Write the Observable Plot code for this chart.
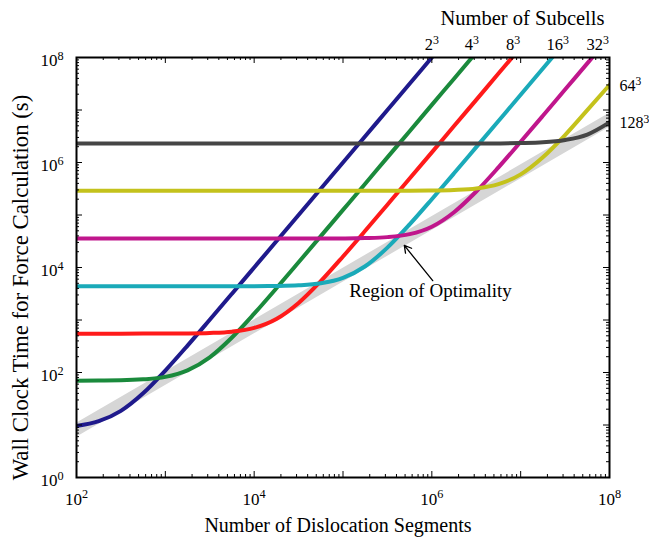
<!DOCTYPE html>
<html><head><meta charset="utf-8">
<script src="https://cdn.jsdelivr.net/npm/d3@7"></script>
<script src="https://cdn.jsdelivr.net/npm/@observablehq/plot@0.6"></script>
<style>body{margin:0;background:#fff} #chart{width:649px;height:538px}</style>
</head><body><div id="chart"></div>
<script>
// Number of dislocation segments (shared sample grid, quarter decades)
const segments = [100, 178, 316, 562, 1000, 1778, 3162, 5623, 1e4, 17783, 31623, 56234, 1e5, 177828, 316228, 562341, 1e6, 1778279, 3162278, 5623413, 1e7, 17782794, 31622777, 56234133, 1e8];
// Wall clock time (s) read per curve (null = beyond the top of the chart)
const time2 = [9.6, 11.8, 18.6, 40.2, 109, 325, 1010, 3170, 1.0e4, 3.16e4, 1.0e5, 3.16e5, 1.0e6, 3.16e6, 1.0e7, 3.16e7, 1.0e8, 3.16e8, null, null, null, null, null, null, null];
const time4 = [70, 70.4, 71, 74, 82.5, 110, 195, 465, 1320, 4020, 12570, 39570, 1.25e5, 3.95e5, 1.25e6, 3.95e6, 1.25e7, 3.95e7, 1.25e8, null, null, null, null, null, null];
const time8 = [550, 550, 550, 551, 552, 555, 566, 599, 706, 1044, 2113, 5490, 16200, 49960, 1.57e5, 4.94e5, 1.56e6, 4.94e6, 1.56e7, 4.94e7, 1.56e8, null, null, null, null];
const time16 = [4380, 4380, 4380, 4380, 4380, 4380, 4380, 4380, 4400, 4440, 4575, 5000, 6330, 10560, 23900, 66100, 2.0e5, 6.22e5, 1.96e6, 6.18e6, 1.95e7, 6.18e7, 1.95e8, null, null];
const time32 = [35500, 35500, 35500, 35500, 35500, 35500, 35500, 35500, 35500, 35500, 35500, 35500, 35700, 36300, 37900, 43200, 59900, 1.13e5, 2.80e5, 8.08e5, 2.48e6, 7.76e6, 2.45e7, 7.72e7, 2.44e8];
const time64 = [2.9e5, 2.9e5, 2.9e5, 2.9e5, 2.9e5, 2.9e5, 2.9e5, 2.9e5, 2.9e5, 2.9e5, 2.9e5, 2.9e5, 2.9e5, 2.9e5, 2.9e5, 2.91e5, 2.93e5, 3.0e5, 3.2e5, 3.87e5, 5.95e5, 1.26e6, 3.34e6, 9.94e6, 3.0e7];
const time128 = [2.3e6, 2.3e6, 2.3e6, 2.3e6, 2.3e6, 2.3e6, 2.3e6, 2.3e6, 2.3e6, 2.3e6, 2.3e6, 2.3e6, 2.3e6, 2.3e6, 2.3e6, 2.3e6, 2.3e6, 2.3e6, 2.3e6, 2.31e6, 2.34e6, 2.42e6, 2.68e6, 3.4e6, 5.8e6];
// Region of optimality band
const optimalSegments = [100, 1e8];
const optimalTime = [8.2, 6.6e6];
// Subcell labels
const subcellNames = ["2^3", "4^3", "8^3", "16^3", "32^3", "64^3", "128^3"];
const seriesTimes = [time2, time4, time8, time16, time32, time64, time128];
const seriesColors = ["#1f1a8c", "#1a8a3c", "#ff1a1a", "#1aaab9", "#c0168c", "#c4c21c", "#454545"];

// label anchors (data coordinates)
const topLabelN = [1e6, 2.82e6, 8.2e6, 2.61e7, 7.36e7];
const rightLabelT = [2.35e7, 4.45e6];

const rows = [];
subcellNames.forEach((name, s) => {
  seriesTimes[s].forEach((t, i) => { if (t != null) rows.push({series: name, N: segments[i], T: t}); });
});
const band = optimalSegments.map((n, i) => ({N: n, T: optimalTime[i]}));

const W = 649, H = 538, mL = 76, mR = 40, mT = 57, mB = 61;
const pw = W - mL - mR, ph = H - mT - mB;
const xMajor = d3.range(2, 9).map(e => 10 ** e);
const yMajor = d3.range(0, 9).map(e => 10 ** e);
const minorOf = (lo, hi) => d3.range(lo, hi).flatMap(e => d3.range(2, 10).map(m => m * 10 ** e));
const xMinor = minorOf(2, 8), yMinor = minorOf(0, 8);
const fmt = d => "10^" + Math.round(Math.log10(d));
const serif = "'Liberation Serif', 'Times New Roman', serif";

const marks = [
  Plot.line(band, {x: "N", y: "T", stroke: "#d6d6d6", strokeWidth: 12, clip: true}),
];
subcellNames.forEach((name, s) => {
  marks.push(Plot.line(rows.filter(r => r.series === name), {x: "N", y: "T", stroke: seriesColors[s], strokeWidth: 4, curve: "monotone-x", clip: true}));
});
marks.push(
  // ticks, inward on all four sides
  Plot.tickX(xMajor, {x: d => d, insetTop: ph - 6, stroke: "black"}),
  Plot.tickX(xMajor, {x: d => d, insetBottom: ph - 6, stroke: "black"}),
  Plot.tickX(xMinor, {x: d => d, insetTop: ph - 3, stroke: "black"}),
  Plot.tickX(xMinor, {x: d => d, insetBottom: ph - 3, stroke: "black"}),
  Plot.tickY(yMajor, {y: d => d, insetRight: pw - 6, stroke: "black"}),
  Plot.tickY(yMajor, {y: d => d, insetLeft: pw - 6, stroke: "black"}),
  Plot.tickY(yMinor, {y: d => d, insetRight: pw - 3, stroke: "black"}),
  Plot.tickY(yMinor, {y: d => d, insetLeft: pw - 3, stroke: "black"}),
  Plot.frame({stroke: "black", strokeWidth: 2}),
  Plot.axisX({ticks: [1e2, 1e4, 1e6, 1e8], tickSize: 0, tickPadding: 15, tickFormat: fmt, label: null, fontSize: 17}),
  Plot.axisY({ticks: [1, 1e2, 1e4, 1e6, 1e8], tickSize: 0, tickPadding: 13, dy: 3, tickFormat: fmt, label: null, fontSize: 17}),
  Plot.text(["Number of Dislocation Segments"], {frameAnchor: "bottom", dy: 54, lineAnchor: "bottom", fontSize: 20, dx: -5}),
  Plot.text(["Wall Clock Time for Force Calculation (s)"], {frameAnchor: "left", textAnchor: "middle", rotate: -90, dx: -56, dy: 20, fontSize: 22.8}),
  Plot.text(["Number of Subcells"], {frameAnchor: "top-right", textAnchor: "end", lineAnchor: "bottom", dx: -5, dy: -33, fontSize: 20.5}),
  Plot.text(subcellNames.slice(0, 5), {x: (d, i) => topLabelN[i], y: 1e8, lineAnchor: "bottom", dy: -8, fontSize: 16.5}),
  Plot.text(subcellNames.slice(5), {x: 1e8, y: (d, i) => rightLabelT[i], lineAnchor: "bottom", textAnchor: "start", dx: 10, fontSize: 16}),
  Plot.arrow([{x1: 10 ** 6.01, y1: 10 ** 3.75, x2: 10 ** 5.69, y2: 10 ** 4.42}], {x1: "x1", y1: "y1", x2: "x2", y2: "y2", stroke: "black", strokeWidth: 1.3, headLength: 9}),
  Plot.text(["Region of Optimality"], {x: 10 ** 5.07, y: 10 ** 3.43, textAnchor: "start", lineAnchor: "bottom", fontSize: 19})
);

const svg = Plot.plot({
  width: W, height: H,
  marginLeft: mL, marginRight: mR, marginTop: mT, marginBottom: mB,
  x: {type: "log", domain: [1e2, 1e8]},
  y: {type: "log", domain: [1, 1e8]},
  style: {fontFamily: serif, fontSize: "17px", background: "white", color: "black"},
  marks
});

// turn "a^b" into real superscripts
svg.querySelectorAll("text").forEach(t => {
  const targets = t.querySelector("tspan") ? [...t.querySelectorAll("tspan")] : [t];
  targets.forEach(el => {
    const s = el.textContent, i = s.indexOf("^");
    if (i < 0) return;
    el.textContent = s.slice(0, i);
    const sup = document.createElementNS("http://www.w3.org/2000/svg", "tspan");
    sup.setAttribute("dy", "-0.5em");
    sup.setAttribute("font-size", "0.72em");
    sup.textContent = s.slice(i + 1);
    el.appendChild(sup);
  });
});
document.getElementById("chart").appendChild(svg);
</script>
</body></html>
